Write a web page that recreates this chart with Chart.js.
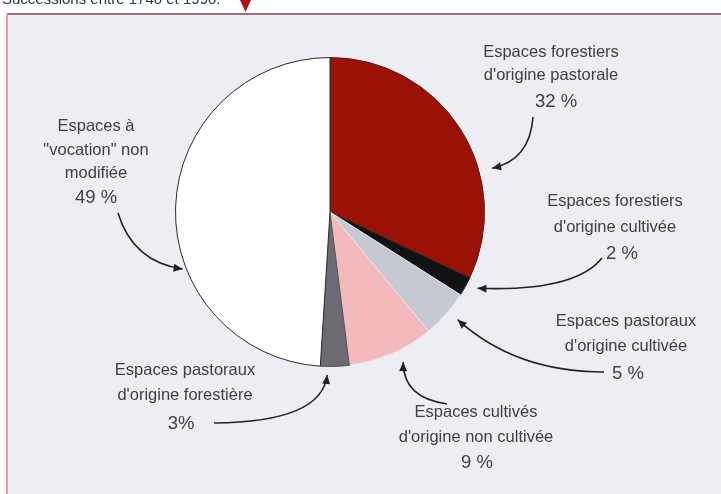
<!DOCTYPE html>
<html><head><meta charset="utf-8">
<script src="https://cdn.jsdelivr.net/npm/chart.js@4"></script>
<style>html,body{margin:0;padding:0;background:#fff;}canvas{display:block;}</style>
</head><body>
<canvas id="c" width="721" height="494"></canvas>
<script>
const categories = [
  "Espaces forestiers d'origine pastorale",
  "Espaces forestiers d'origine cultivée",
  "Espaces pastoraux d'origine cultivée",
  "Espaces cultivés d'origine non cultivée",
  "Espaces pastoraux d'origine forestière",
  "Espaces à \"vocation\" non modifiée"
];
const values = [32, 2, 5, 9, 3, 49];
const valueLabels = ["32 %", "2 %", "5 %", "9 %", "3%", "49 %"];
const labelLines = [
  ["Espaces forestiers", "d'origine pastorale"],
  ["Espaces forestiers", "d'origine cultivée"],
  ["Espaces pastoraux", "d'origine cultivée"],
  ["Espaces cultivés", "d'origine non cultivée"],
  ["Espaces pastoraux", "d'origine forestière"],
  ["Espaces à", "\"vocation\" non", "modifiée"]
];
const colors = ["#9a1206", "#121212", "#c6c9d1", "#f3b9bd", "#6d6a72", "#ffffff"];

// annotation layout (label placement, arrow start/control, target fraction on slice)
const layout = [
  {x:551, y:[52,75], vy:102, vx:556, start:[533,117], ctrl:[530,160], frac:0.65, r:168},
  {x:615, y:[201,227], vy:254, vx:622, start:[602,258], ctrl:[575,292], frac:0.3, r:166},
  {x:626, y:[321,346], vy:374, vx:628, start:[604,372], ctrl:[515,372], frac:0.43, r:167},
  {x:476, y:[412,437], vy:463, vx:477, start:[447,404], ctrl:[403,398], frac:0.42, r:167},
  {x:185, y:[370,395], vy:424, vx:181, start:[214,423], ctrl:[322,422], frac:0.76, r:163},
  {x:96, y:[126,150,173], vy:198, vx:96, start:[118,213], ctrl:[133,262], frac:0.37, r:158}
];

const deco = {
  id: 'deco',
  beforeDraw(chart) {
    const ctx = chart.ctx;
    ctx.save();
    ctx.fillStyle = '#ffffff';
    ctx.fillRect(0, 0, 721, 494);
    ctx.fillStyle = '#eceef3';
    ctx.fillRect(8, 15, 713, 479);
    // frame lines
    ctx.strokeStyle = '#a07070';
    ctx.lineWidth = 2;
    ctx.beginPath(); ctx.moveTo(7, 14); ctx.lineTo(721, 14); ctx.stroke();
    ctx.strokeStyle = '#e0a0a4';
    ctx.beginPath(); ctx.moveTo(7, 14); ctx.lineTo(7, 494); ctx.stroke();
    // cut-off heading
    ctx.fillStyle = '#333';
    ctx.font = '15px "Liberation Sans", Arial, sans-serif';
    ctx.textBaseline = 'alphabetic';
    ctx.textAlign = 'left';
    ctx.fillText('Successions entre 1740 et 1990.', 2, 4);
    // small red arrow
    ctx.fillStyle = '#b01010';
    ctx.beginPath(); ctx.moveTo(240, 0); ctx.lineTo(251, 0); ctx.lineTo(245.5, 12); ctx.closePath(); ctx.fill();
    ctx.restore();
  },
  afterDraw(chart) {
    const ctx = chart.ctx;
    const meta = chart.getDatasetMeta(0);
    ctx.save();
    ctx.textAlign = 'center';
    ctx.textBaseline = 'middle';
    layout.forEach((L, i) => {
      ctx.fillStyle = '#404040';
      ctx.font = '16.5px "Liberation Sans", Arial, sans-serif';
      labelLines[i].forEach((t, k) => ctx.fillText(t, L.x, L.y[k]));
      ctx.font = '18.5px "Liberation Sans", Arial, sans-serif';
      ctx.fillText(valueLabels[i], L.vx, L.vy);
      // arrow
      const arc = meta.data[i];
      const a = arc.startAngle + L.frac * (arc.endAngle - arc.startAngle);
      const tx = arc.x + L.r * Math.cos(a), ty = arc.y + L.r * Math.sin(a);
      ctx.strokeStyle = '#222';
      ctx.lineWidth = 1.6;
      ctx.beginPath();
      ctx.moveTo(L.start[0], L.start[1]);
      ctx.quadraticCurveTo(L.ctrl[0], L.ctrl[1], tx, ty);
      ctx.stroke();
      const ang = Math.atan2(ty - L.ctrl[1], tx - L.ctrl[0]);
      ctx.fillStyle = '#222';
      ctx.beginPath();
      ctx.moveTo(tx, ty);
      ctx.lineTo(tx - 9 * Math.cos(ang) + 4 * Math.sin(ang), ty - 9 * Math.sin(ang) - 4 * Math.cos(ang));
      ctx.lineTo(tx - 9 * Math.cos(ang) - 4 * Math.sin(ang), ty - 9 * Math.sin(ang) + 4 * Math.cos(ang));
      ctx.closePath(); ctx.fill();
    });
    ctx.restore();
  }
};

new Chart(document.getElementById('c'), {
  type: 'pie',
  data: {
    labels: categories,
    datasets: [{
      data: values,
      backgroundColor: colors,
      borderColor: ['#5a1a10', '#2a2a2a', '#e8e8ee', '#f7dfe0', '#555', '#2a2a2a'],
      borderWidth: 1
    }]
  },
  options: {
    responsive: false,
    animation: false,
    layout: { padding: { left: 175, right: 236, top: 57, bottom: 127 } },
    plugins: { legend: { display: false }, tooltip: { enabled: false } }
  },
  plugins: [deco]
});
</script>
</body></html>
